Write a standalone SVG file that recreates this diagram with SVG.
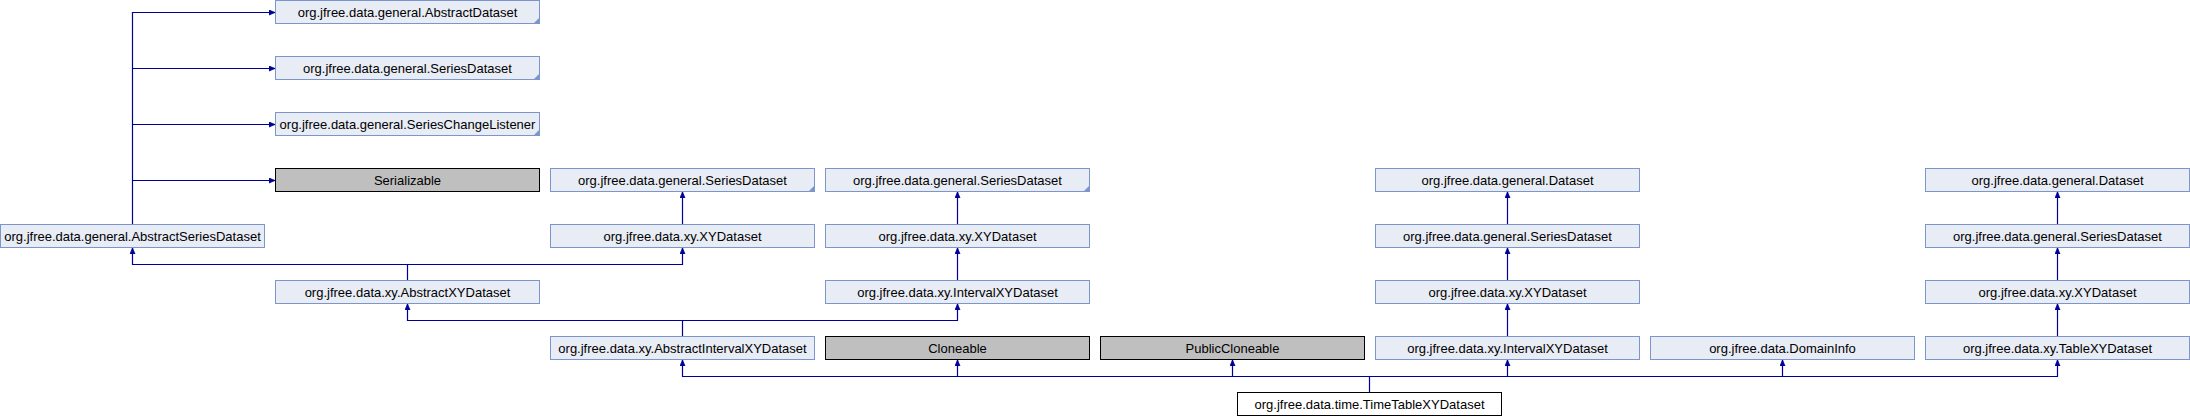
<svg xmlns="http://www.w3.org/2000/svg" width="2190" height="416" viewBox="0 0 2190 416">
<style>
.n rect{fill:#e8ecf5;stroke:#7c96cd;stroke-width:1}
.g rect{fill:#bfbfbf;stroke:#000;stroke-width:1}
.c rect{fill:#fff;stroke:#000;stroke-width:1}
.tri{fill:#7c96cd}
text{font-family:"Liberation Sans",Arial,Helvetica,sans-serif;font-size:13px;fill:#000;text-anchor:middle}
.e path{fill:none;stroke:#000099;stroke-width:1.2}
</style>
<defs>
<marker id="ah" markerUnits="userSpaceOnUse" markerWidth="8" markerHeight="8" refX="6" refY="3" orient="auto">
<path d="M0,0.5 L6,3 L0,5.5 z" fill="#000099" stroke="#000099" stroke-width="0.8"/>
</marker>
</defs>
<rect width="2190" height="416" fill="#fff"/>
<g class="e" id="connectors">
<path d="M132.5,224.5 V12.5 H275" marker-end="url(#ah)"/>
<path d="M132.5,68.5 H275" marker-end="url(#ah)"/>
<path d="M132.5,124.5 H275" marker-end="url(#ah)"/>
<path d="M132.5,180.5 H275" marker-end="url(#ah)"/>
<path d="M407.5,280.5 V264.5 H132.5 V248" marker-end="url(#ah)"/>
<path d="M407.5,264.5 H682.5 V248" marker-end="url(#ah)"/>
<path d="M682.5,336.5 V320.5 H407.5 V304" marker-end="url(#ah)"/>
<path d="M682.5,320.5 H957.5 V304" marker-end="url(#ah)"/>
<path d="M1369.5,392.5 V376.5 H682.5 V360" marker-end="url(#ah)"/>
<path d="M957.5,376.5 V360" marker-end="url(#ah)"/>
<path d="M1232.5,376.5 V360" marker-end="url(#ah)"/>
<path d="M1369.5,376.5 H1507.5 V360" marker-end="url(#ah)"/>
<path d="M1507.5,376.5 H1782.5 V360" marker-end="url(#ah)"/>
<path d="M1782.5,376.5 H2057.5 V360" marker-end="url(#ah)"/>
<path d="M682.5,224.5 V192" marker-end="url(#ah)"/>
<path d="M957.5,224.5 V192" marker-end="url(#ah)"/>
<path d="M957.5,280.5 V248" marker-end="url(#ah)"/>
<path d="M1507.5,224.5 V192" marker-end="url(#ah)"/>
<path d="M1507.5,280.5 V248" marker-end="url(#ah)"/>
<path d="M1507.5,336.5 V304" marker-end="url(#ah)"/>
<path d="M2057.5,224.5 V192" marker-end="url(#ah)"/>
<path d="M2057.5,280.5 V248" marker-end="url(#ah)"/>
<path d="M2057.5,336.5 V304" marker-end="url(#ah)"/>
</g>
<g id="n_AbstractSeriesDataset" class="n"><rect x="0.5" y="224.5" width="264" height="23"/><text x="132.5" y="240.5">org.jfree.data.general.AbstractSeriesDataset</text></g>
<g id="n_AbstractDataset" class="n"><rect x="275.5" y="0.5" width="264" height="23"/><polygon class="tri" points="539.5,17.5 539.5,23.5 533.5,23.5"/><text x="407.5" y="16.5">org.jfree.data.general.AbstractDataset</text></g>
<g id="n_SeriesDataset1" class="n"><rect x="275.5" y="56.5" width="264" height="23"/><polygon class="tri" points="539.5,73.5 539.5,79.5 533.5,79.5"/><text x="407.5" y="72.5">org.jfree.data.general.SeriesDataset</text></g>
<g id="n_SeriesChangeListener" class="n"><rect x="275.5" y="112.5" width="264" height="23"/><polygon class="tri" points="539.5,129.5 539.5,135.5 533.5,135.5"/><text x="407.5" y="128.5">org.jfree.data.general.SeriesChangeListener</text></g>
<g id="n_Serializable" class="g"><rect x="275.5" y="168.5" width="264" height="23"/><text x="407.5" y="184.5">Serializable</text></g>
<g id="n_AbstractXYDataset" class="n"><rect x="275.5" y="280.5" width="264" height="23"/><text x="407.5" y="296.5">org.jfree.data.xy.AbstractXYDataset</text></g>
<g id="n_SeriesDataset2" class="n"><rect x="550.5" y="168.5" width="264" height="23"/><polygon class="tri" points="814.5,185.5 814.5,191.5 808.5,191.5"/><text x="682.5" y="184.5">org.jfree.data.general.SeriesDataset</text></g>
<g id="n_XYDataset2" class="n"><rect x="550.5" y="224.5" width="264" height="23"/><text x="682.5" y="240.5">org.jfree.data.xy.XYDataset</text></g>
<g id="n_AbstractIntervalXYDataset" class="n"><rect x="550.5" y="336.5" width="264" height="23"/><text x="682.5" y="352.5">org.jfree.data.xy.AbstractIntervalXYDataset</text></g>
<g id="n_SeriesDataset3" class="n"><rect x="825.5" y="168.5" width="264" height="23"/><polygon class="tri" points="1089.5,185.5 1089.5,191.5 1083.5,191.5"/><text x="957.5" y="184.5">org.jfree.data.general.SeriesDataset</text></g>
<g id="n_XYDataset3" class="n"><rect x="825.5" y="224.5" width="264" height="23"/><text x="957.5" y="240.5">org.jfree.data.xy.XYDataset</text></g>
<g id="n_IntervalXYDataset3" class="n"><rect x="825.5" y="280.5" width="264" height="23"/><text x="957.5" y="296.5">org.jfree.data.xy.IntervalXYDataset</text></g>
<g id="n_Cloneable" class="g"><rect x="825.5" y="336.5" width="264" height="23"/><text x="957.5" y="352.5">Cloneable</text></g>
<g id="n_PublicCloneable" class="g"><rect x="1100.5" y="336.5" width="264" height="23"/><text x="1232.5" y="352.5">PublicCloneable</text></g>
<g id="n_Dataset5" class="n"><rect x="1375.5" y="168.5" width="264" height="23"/><text x="1507.5" y="184.5">org.jfree.data.general.Dataset</text></g>
<g id="n_SeriesDataset5" class="n"><rect x="1375.5" y="224.5" width="264" height="23"/><text x="1507.5" y="240.5">org.jfree.data.general.SeriesDataset</text></g>
<g id="n_XYDataset5" class="n"><rect x="1375.5" y="280.5" width="264" height="23"/><text x="1507.5" y="296.5">org.jfree.data.xy.XYDataset</text></g>
<g id="n_IntervalXYDataset5" class="n"><rect x="1375.5" y="336.5" width="264" height="23"/><text x="1507.5" y="352.5">org.jfree.data.xy.IntervalXYDataset</text></g>
<g id="n_DomainInfo" class="n"><rect x="1650.5" y="336.5" width="264" height="23"/><text x="1782.5" y="352.5">org.jfree.data.DomainInfo</text></g>
<g id="n_Dataset7" class="n"><rect x="1925.5" y="168.5" width="264" height="23"/><text x="2057.5" y="184.5">org.jfree.data.general.Dataset</text></g>
<g id="n_SeriesDataset7" class="n"><rect x="1925.5" y="224.5" width="264" height="23"/><text x="2057.5" y="240.5">org.jfree.data.general.SeriesDataset</text></g>
<g id="n_XYDataset7" class="n"><rect x="1925.5" y="280.5" width="264" height="23"/><text x="2057.5" y="296.5">org.jfree.data.xy.XYDataset</text></g>
<g id="n_TableXYDataset" class="n"><rect x="1925.5" y="336.5" width="264" height="23"/><text x="2057.5" y="352.5">org.jfree.data.xy.TableXYDataset</text></g>
<g id="n_TimeTableXYDataset" class="c"><rect x="1237.5" y="392.5" width="264" height="23"/><text x="1369.5" y="408.5">org.jfree.data.time.TimeTableXYDataset</text></g>
</svg>
